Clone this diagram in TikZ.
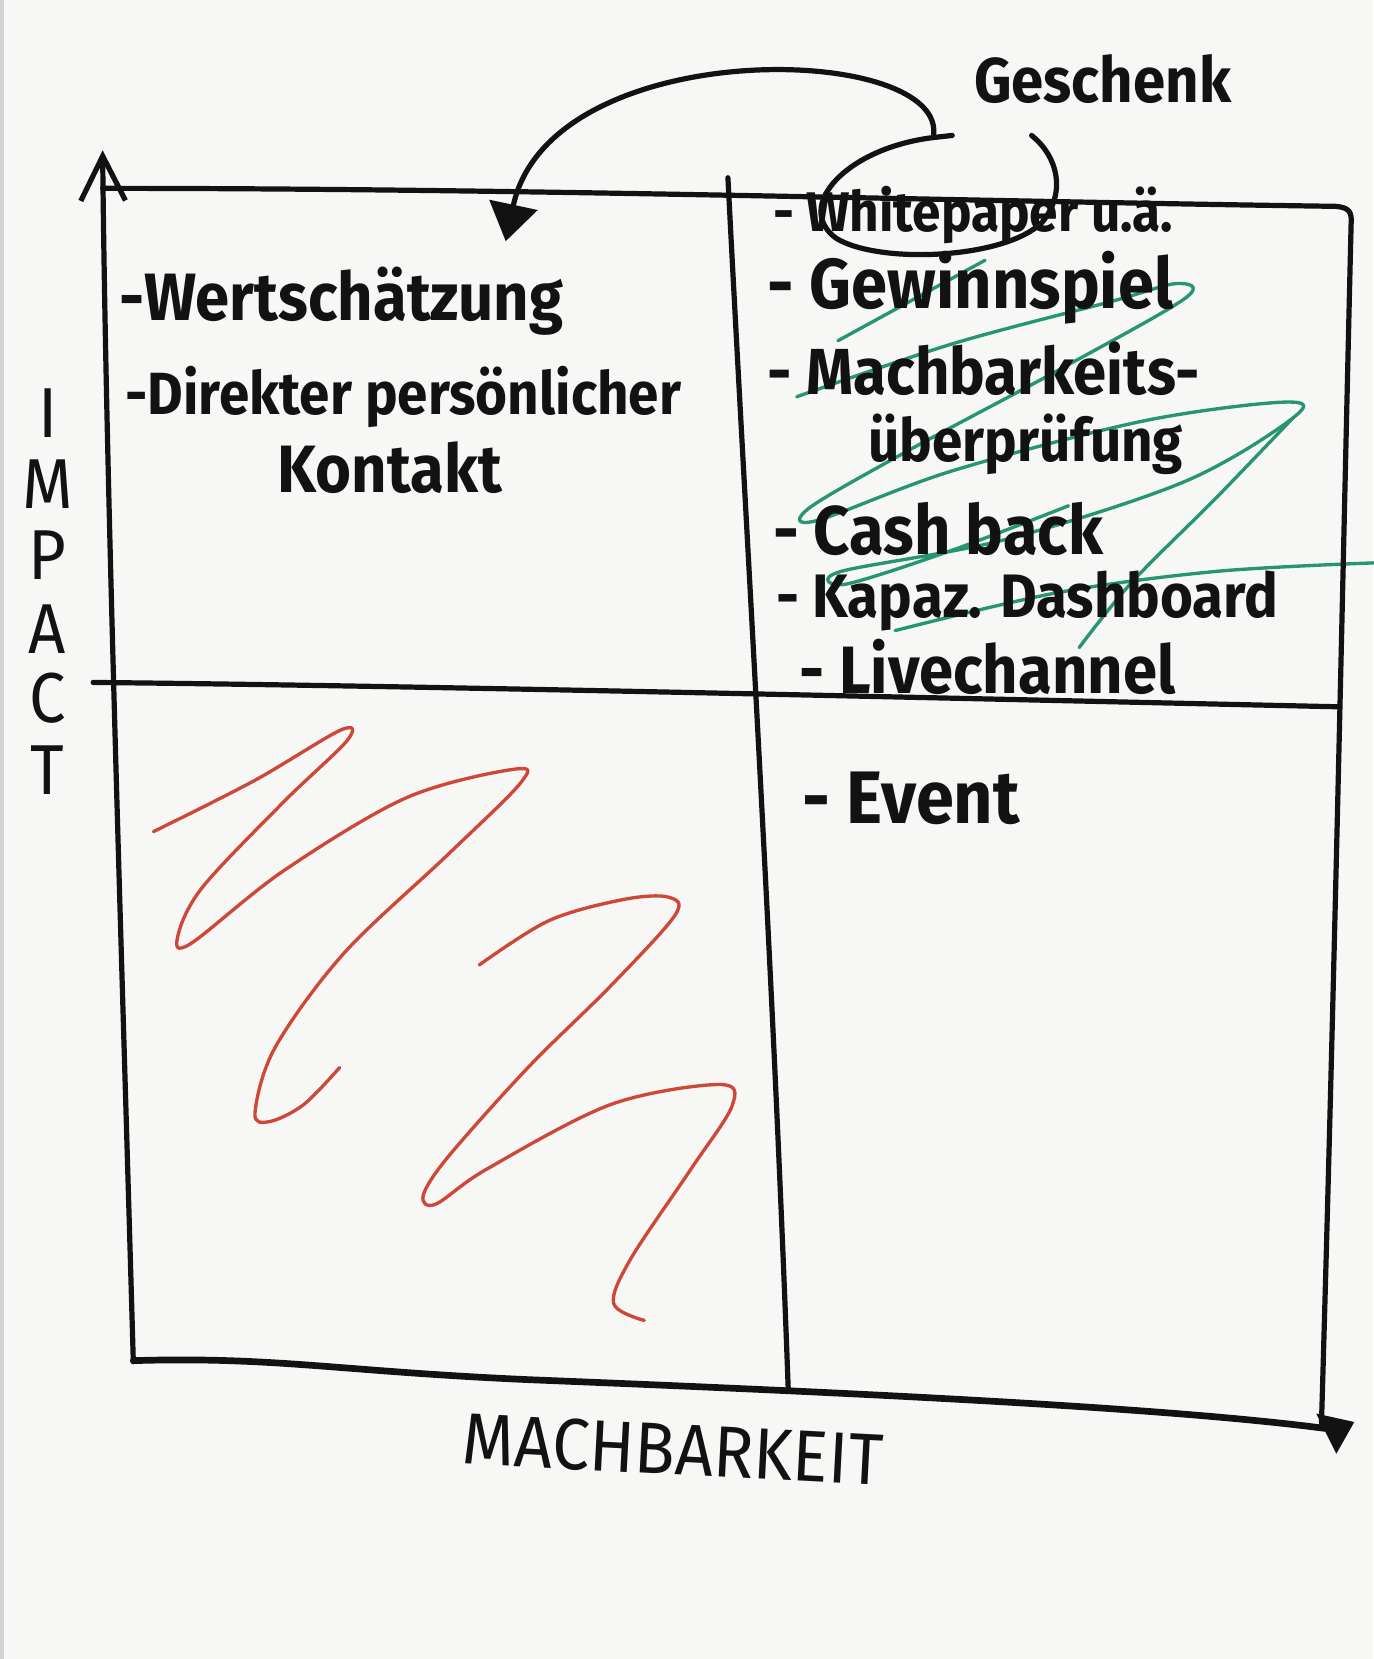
\documentclass[tikz,border=0pt]{standalone}
\usepackage{fontspec}
\usetikzlibrary{arrows.meta,positioning}
\newfontfamily\hand[FakeStretch=0.92]{Fira Sans}
\definecolor{paper}{RGB}{247,247,245}
\definecolor{ink}{RGB}{18,18,18}
\definecolor{redink}{RGB}{206,72,58}
\definecolor{greenink}{RGB}{38,150,112}

\begin{document}
\begin{tikzpicture}[x=0.01cm,y=-0.01cm,
  pen/.style={draw=ink,line width=1.4pt,line cap=round,line join=round},
  scribble/.style={line width=0.9pt,line cap=round,line join=round},
  item/.style={anchor=west,inner sep=0pt,text=ink,font=\hand\bfseries\fontsize{#1}{#1}\selectfont},
  letter/.style={inner sep=0pt,text=ink,font=\hand\fontsize{19}{19}\selectfont}]
\useasboundingbox (0,0) rectangle (1298,1568);
\fill[paper] (0,0) rectangle (1298,1568);
\fill[gray!35] (0,0) rectangle (4,1568);

% crossed out quadrants
\draw[redink,scribble] plot[smooth,tension=0.55] coordinates {(145,786) (240,738) (322,690) (328,700) (268,758) (191,839) (168,885) (180,892) (268,823) (384,754) (486,727) (492,740) (423,808) (325,901) (260,990) (241,1052) (255,1060) (287,1044) (321,1009)};
\draw[redink,scribble] plot[smooth,tension=0.55] coordinates {(453,912) (519,870) (590,850) (632,848) (638,865) (577,932) (499,1009) (423,1094) (400,1130) (412,1138) (460,1105) (577,1044) (680,1025) (692,1045) (653,1105) (596,1190) (580,1232) (609,1248)};
\draw[greenink,scribble] plot[smooth,tension=0.55] coordinates {(753,375) (900,325) (1050,285) (1112,268) (1120,282) (1000,350) (860,425) (765,480) (772,492) (900,445) (1080,398) (1215,380) (1222,395) (1120,455) (950,510) (795,540) (800,552) (900,520) (1010,478)};
\draw[greenink,scribble] plot[smooth,tension=0.55] coordinates {(1222,395) (1150,470) (1070,550) (1020,612)};
\draw[greenink,scribble] plot[smooth,tension=0.55] coordinates {(846,596) (1000,560) (1150,540) (1298,532)};
\draw[greenink,scribble] (792,322) -- (931,246);

% axes and quadrant lines
\draw[pen,-{Straight Barb[length=12pt,width=12pt]}] (126,1287) .. controls (115,900) and (100,450) .. (97,142);
\draw[pen,line width=1.8pt] (126,1286) .. controls (260,1282) and (320,1296) .. (500,1304) .. controls (800,1316) and (1100,1330) .. (1252,1350);
\fill[ink] (1244,1336) -- (1280,1344) -- (1263,1374) -- cycle;
\draw[pen] (97,178) .. controls (500,178) and (900,190) .. (1262,195) .. controls (1275,196) and (1278,200) .. (1277,212) .. controls (1270,500) and (1262,900) .. (1249,1345);
\draw[pen] (88,645) .. controls (400,648) and (900,660) .. (1265,668);
\draw[pen] (688,168) .. controls (705,500) and (730,900) .. (745,1313);

% gift remark with loop and arrow
\node[item=17] (gift) at (920,75) {Geschenk};
\coordinate (knot) at (882,130);
\coordinate (target) at (478,228);
\draw[pen] (900,128) -- (knot) .. controls (800,140) and (750,195) .. (790,225) .. controls (830,250) and (950,245) .. (985,210) .. controls (1008,182) and (1000,148) .. (975,128);
\draw[pen,-{Triangle[length=10pt,width=13pt]}] (knot) .. controls (900,40) and (520,30) .. (target);

% top left
\node[item=18] (wert) at (112,285) {-Wertschätzung};
\node[item=16] (direkt) at (118,375) {-Direkter persönlicher};
\node[item=18] (kontakt) at (262,442) {Kontakt};

% top right
\node[item=15] (white) at (730,203) {- Whitepaper u.ä.};
\node[item=19] (gewinn) at (725,272) {- Gewinnspiel};
\node[item=17.5] (machbar) at (725,348) {- Machbarkeits-};
\node[item=16] (pruef) at (820,420) {überprüfung};
\node[item=18.5] (cash) at (730,500) {- Cash back};
\node[item=16.5] (kapaz) at (733,568) {- Kapaz. Dashboard};
\node[item=18] (live) at (755,630) {- Livechannel};

% bottom right
\node[item=20] (event) at (758,755) {- Event};

% axis labels
\foreach \ch/\yy in {I/390,M/458,P/525,A/595,C/660,T/728}
  \node[letter] (imp\ch) at (45,\yy) {\ch};
\node[letter,font=\hand\fontsize{19.5}{19.5}\selectfont,rotate=-3] (machlabel) at (636,1370) {MACHBARKEIT};
\end{tikzpicture}
\end{document}
